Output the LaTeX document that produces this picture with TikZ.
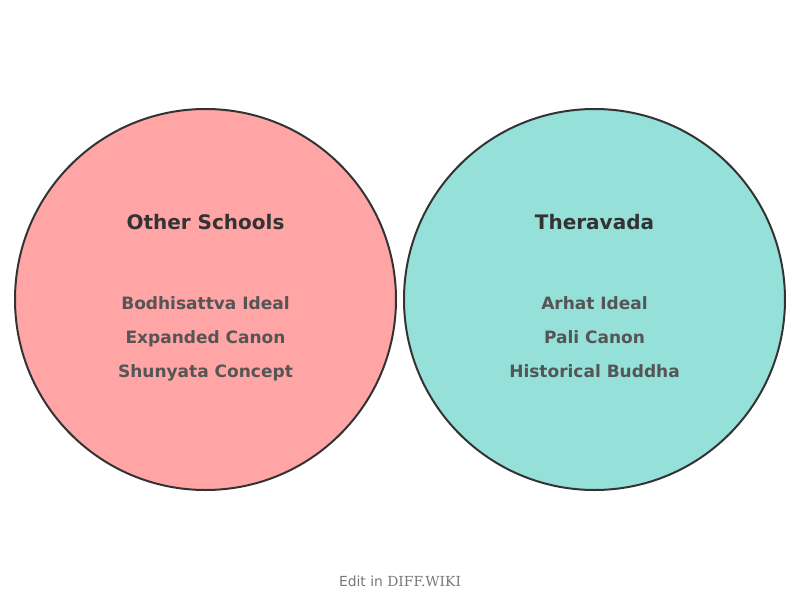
\documentclass[tikz,border=0pt]{standalone}
\usepackage{fontspec}
\setmainfont{DejaVu Sans}
\newfontfamily\wikifont{DejaVu Serif}
\usetikzlibrary{positioning}
\definecolor{leftfill}{HTML}{FFA5A5}
\definecolor{rightfill}{HTML}{95E1DA}
\definecolor{rimgray}{HTML}{333333}
\definecolor{itemgray}{HTML}{555555}
\definecolor{footgray}{HTML}{777777}
\tikzset{
  setcircle/.style={circle, draw=rimgray, line width=1.5pt, minimum size=381*0.75pt, inner sep=0pt},
  settitle/.style={anchor=mid, font=\bfseries\fontsize{15}{18}\selectfont, text=rimgray},
  setitem/.style={anchor=mid, font=\bfseries\fontsize{12.75}{15}\selectfont, text=itemgray},
}
\begin{document}
\begin{tikzpicture}[x=0.75pt,y=-0.75pt]
\useasboundingbox (0,0) rectangle (800,600);

% the two sets
\node[setcircle, fill=leftfill] (other) at (205.5,299.5) {};
\node[setcircle, fill=rightfill] (thera) at (594.5,299.5) {};

\node[settitle] (othertitle) at (205.5,225.5) {Other Schools};
\node[settitle] (theratitle) at (594.5,225.5) {Theravada};

% left items
\node[setitem] (bodhi) at (205.5,306) {Bodhisattva Ideal};
\node[setitem] (canon) at (205.5,340) {Expanded Canon};
\node[setitem] (shunya) at (205.5,374) {Shunyata Concept};

% right items
\node[setitem] (arhat) at (594.5,306) {Arhat Ideal};
\node[setitem] (pali) at (594.5,340) {Pali Canon};
\node[setitem] (buddha) at (594.5,374) {Historical Buddha};

\node[anchor=mid, font=\fontsize{10.4}{12}\selectfont, text=footgray] (footer) at (400,583) {Edit in {\wikifont DIFF.WIKI}};
\end{tikzpicture}
\end{document}
